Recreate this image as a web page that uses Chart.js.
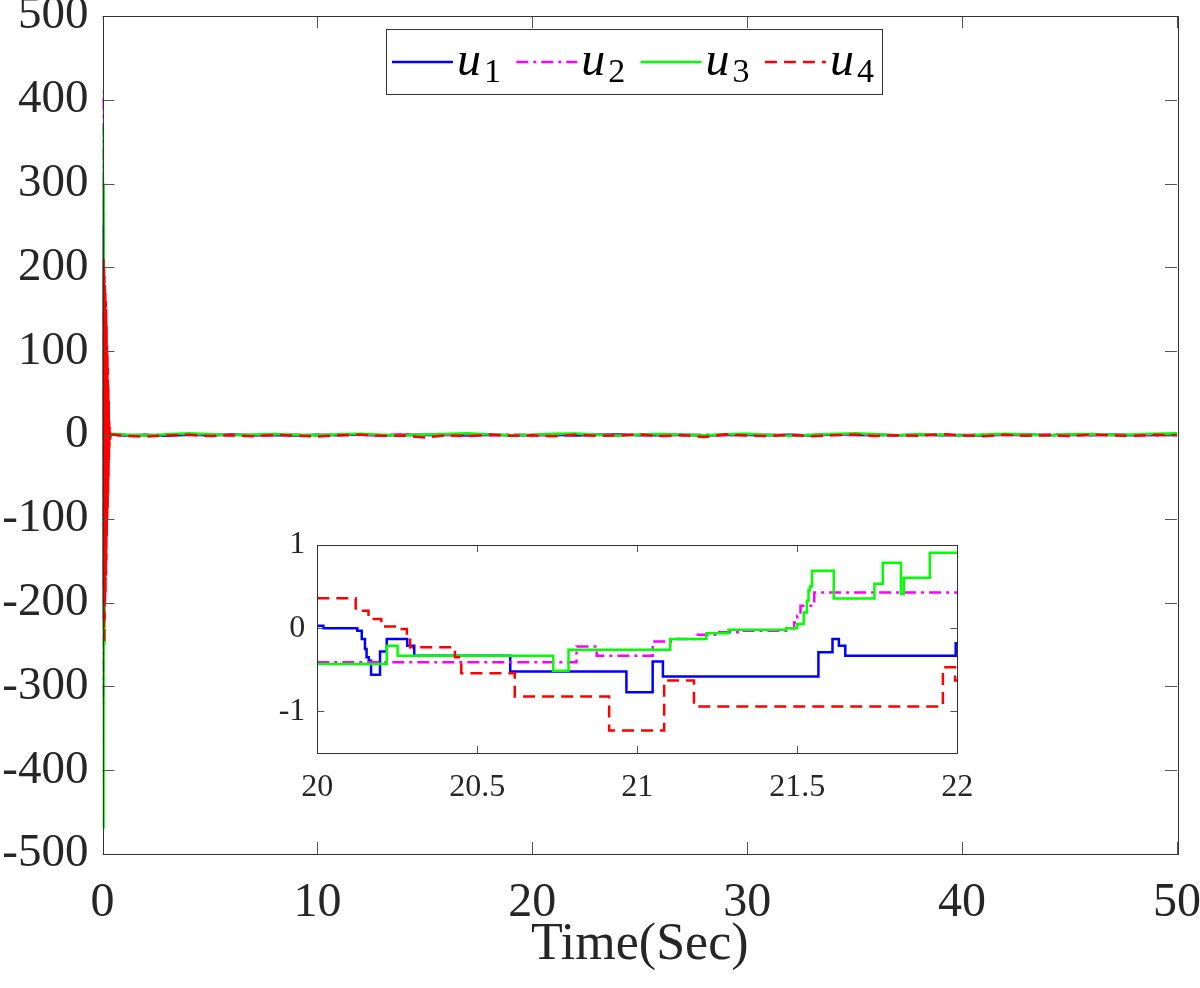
<!DOCTYPE html>
<html>
<head>
<meta charset="utf-8">
<script src="https://cdn.jsdelivr.net/npm/chart.js@4.4.1/dist/chart.umd.min.js"></script>
<style>
  html, body { margin: 0; padding: 0; background: #fff; }
  #wrap { position: relative; width: 1200px; height: 988px; }
  #mainChart { position: absolute; left: 0; top: 0; }
  #insetChart { position: absolute; left: 260px; top: 530px; }
</style>
</head>
<body>
<div id="wrap">
  <canvas id="mainChart" width="1200" height="988"></canvas>
  <canvas id="insetChart" width="720" height="280"></canvas>
</div>
<script>
// ---- main plot data (0..50 s) ----
const mainTime = [
  0, 0.01, 0.02, 0.03, 0.04, 0.05, 0.06, 0.07, 0.08, 0.09,
  0.1, 0.11, 0.12, 0.13, 0.14, 0.15, 0.16, 0.17, 0.18, 0.19,
  0.2, 0.21, 0.22, 0.23, 0.24, 0.25, 0.26, 0.27, 0.28, 0.29,
  0.3, 0.31, 0.32, 0.33, 0.34, 0.35, 0.36, 0.37, 0.38, 0.39,
  0.4, 0.45,
  0.5, 1, 2, 3, 4, 5, 6, 7, 8, 9,
  10, 11, 12, 13, 14, 15, 16, 17, 18, 19,
  20, 21, 22, 23, 24, 25, 26, 27, 28, 29,
  30, 31, 32, 33, 34, 35, 36, 37, 38, 39,
  40, 41, 42, 43, 44, 45, 46, 47, 48, 49,
  50
];
const mainU1 = [
  0, 120, 250, -180, 160, -220, 90, -150, 120, -100,
  80, -90, 60, -70, 50, -40, 35, -30, 25, -20,
  18, -15, 12, -10, 8, -7, 6, -5, 4, -3,
  3, -2, 2, -1, 1, -1, 0.5, -0.5, 0.3, -0.2,
  0.1, 0,
  0.4, -0.5, 0.3, -0.8, 0.2, -0.4, 0.6, -0.3, 0.1, -0.6,
  0.4, -0.2, 0.5, -0.7, 0.3, -0.1, 0.4, -0.5, 0.2, -0.3,
  -0.4, 0.3, -0.6, 0.2, 0.5, -0.3, -0.2, 0.4, -0.5, 0.1,
  0.3, -0.4, 0.2, -0.6, 0.5, -0.1, 0.2, -0.3, 0.4, -0.2,
  0.1, -0.5, 0.3, 0.6, -0.4, 0.2, -0.1, 0.3, -0.2, 0.4,
  0.1
];
const mainU2 = [
  0, 410, 150, -200, 300, -320, 250, -150, 120, -90,
  70, -60, 40, -30, 25, -20, 15, -10, 8, -6,
  5, -4, 3, -2, 2, -1, 1, -1, 0.5, -0.5,
  0.3, -0.2, 0.2, -0.1, 0.1, 0, 0, 0, 0, 0,
  0, 0,
  0.8, 0.2, -0.6, 0.5, 1.0, -0.3, 0.4, -0.7, 0.6, 0.2,
  -0.5, 0.7, 0.1, -0.4, 0.9, -0.2, 0.3, 0.6, -0.6, 0.4,
  0.2, -0.3, 0.8, 0.1, -0.5, 0.6, 0.3, -0.2, 0.5, -0.4,
  0.7, 0.2, -0.6, 0.4, 0.9, -0.1, 0.3, -0.5, 0.6, 0.2,
  -0.3, 0.5, 0.1, -0.4, 0.7, 0.3, -0.2, 0.6, 0.1, -0.3,
  0.4
];
const mainU3 = [
  0, 250, 370, -200, -470, 300, -350, 150, -250, 120,
  -150, 100, -90, 80, -70, 60, -50, 40, -35, 30,
  -25, 20, -15, 12, -10, 8, -6, 5, -4, 3,
  -2, 2, -1, 1, -1, 0.5, -0.5, 0.3, 0.2, 0.1,
  0, 0,
  1.5, 0.5, -0.5, 1.0, 2.0, 0.8, -0.3, 0.6, 1.2, 0.2,
  -0.4, 0.9, 1.6, 0.3, -0.6, 0.5, 1.1, 2.0, 0.7, -0.2,
  0.4, 1.4, 1.8, 0.2, -0.8, 0.6, 1.2, 0.3, -0.4, 1.0,
  1.5, 0.1, -1.0, 0.4, 1.3, 2.2, 1.0, -0.3, 0.8, 0.2,
  -0.5, 0.7, 1.4, 0.5, -0.3, 0.9, 1.2, 0.1, 0.6, 1.5,
  2.0
];
const mainU4 = [
  0, 50, -100, 150, -180, 210, -230, 200, -250, 190,
  -220, 180, -200, 170, -190, 160, -170, 150, -150, 130,
  -120, 110, -100, 96, -90, 80, -70, 60, -50, 40,
  -30, 20, -15, 10, -6, 4, -2, 1, 0.5, 0.2,
  0, 0.3,
  0.5, -1.0, -2.0, -0.5, 0.3, -1.2, -0.4, -1.5, 0.2, -0.8,
  -1.8, -0.3, 0.4, -1.0, -0.6, -3.0, -0.2, -1.4, 0.5, -0.9,
  -0.4, -1.6, 0.2, -1.0, -0.5, 0.6, -1.3, -0.2, -2.5, 0.8,
  -0.7, -1.1, 0.3, -1.6, -0.4, 0.5, -1.2, -0.3, -0.9, 1.0,
  -0.5, -1.4, 0.2, -0.8, -0.3, -1.2, 0.4, -0.6, -1.0, 0.3,
  -0.2
];
const mainXTicks = [0, 10, 20, 30, 40, 50];
const mainYTicks = [-500, -400, -300, -200, -100, 0, 100, 200, 300, 400, 500];

// ---- zoomed inset data (20..22 s), values hold until the next time ----
const insetU1T = [20, 20.019, 20.125, 20.139, 20.149, 20.154, 20.161, 20.168, 20.196, 20.217, 20.281,
                  20.303, 20.603, 20.966, 21.048, 21.08, 21.566, 21.61, 21.63, 21.65, 21.995, 22];
const insetU1V = [0.03, 0.0, -0.03, -0.13, -0.25, -0.35, -0.39, -0.56, -0.28, -0.13, -0.21,
                  -0.33, -0.52, -0.77, -0.4, -0.58, -0.29, -0.13, -0.21, -0.33, -0.18, -0.18];
const insetU2T = [20, 20.81, 20.873, 21.048, 21.105, 21.18, 21.256, 21.33, 21.47, 21.49, 21.5, 21.51, 21.553, 22];
const insetU2V = [-0.41, -0.22, -0.33, -0.16, -0.13, -0.08, -0.05, -0.03, 0.0, 0.07, 0.15, 0.27, 0.43, 0.43];
const insetU3T = [20, 20.217, 20.251, 20.737, 20.785, 21.103, 21.216, 21.285, 21.465, 21.5, 21.52,
                  21.53, 21.535, 21.54, 21.546, 21.614, 21.741, 21.767, 21.824, 21.833, 21.914, 22];
const insetU3V = [-0.43, -0.21, -0.33, -0.51, -0.26, -0.13, -0.06, -0.02, 0.0, 0.05, 0.19,
                  0.33, 0.46, 0.5, 0.69, 0.356, 0.535, 0.787, 0.41, 0.607, 0.907, 0.907];
const insetU4T = [20, 20.12, 20.16, 20.2, 20.26, 20.28, 20.29, 20.43, 20.45, 20.617, 20.912,
                  21.084, 21.177, 21.955, 21.993, 22];
const insetU4V = [0.36, 0.21, 0.11, 0.02, -0.01, -0.11, -0.23, -0.35, -0.54, -0.82, -1.23,
                  -0.63, -0.94, -0.47, -0.63, -0.63];
const insetXTicks = [20, 20.5, 21, 21.5, 22];
const insetYTicks = [-1, 0, 1];

const seriesNames = ['1', '2', '3', '4'];
const seriesColors = ['#0000ff', '#ff00ff', '#00ff00', '#ff0000'];
const seriesDash = [[], [12, 5, 3, 5], [], [12, 7]];

const serif = "'Liberation Serif', 'Times New Roman', serif";
const textColor = '#262626';

function toPoints(xs, ys) {
  return xs.map((x, i) => ({ x: x, y: ys[i] }));
}

// box + inward ticks on all four sides (MATLAB look)
const framePlugin = {
  id: 'frame',
  afterDatasetsDraw(chart, args, opts) {
    const { ctx, chartArea: a, scales } = chart;
    const len = opts.len || 10;
    ctx.save();
    ctx.strokeStyle = opts.color || '#444';
    ctx.lineWidth = 1;
    ctx.beginPath();
    scales.x.ticks.forEach(t => {
      const px = Math.round(scales.x.getPixelForValue(t.value)) + 0.5;
      ctx.moveTo(px, a.bottom); ctx.lineTo(px, a.bottom - len);
      ctx.moveTo(px, a.top); ctx.lineTo(px, a.top + len);
    });
    scales.y.ticks.forEach(t => {
      const py = Math.round(scales.y.getPixelForValue(t.value)) + 0.5;
      ctx.moveTo(a.left, py); ctx.lineTo(a.left + len, py);
      ctx.moveTo(a.right, py); ctx.lineTo(a.right - len, py);
    });
    ctx.stroke();
    ctx.strokeStyle = opts.boxColor || '#333';
    ctx.strokeRect(Math.round(a.left) + 0.5, Math.round(a.top) + 0.5,
                   Math.round(a.right - a.left), Math.round(a.bottom - a.top));
    ctx.restore();
  }
};

// legend with u_i labels (italic u, subscript index)
const mathLegend = {
  id: 'mathLegend',
  afterDraw(chart, args, opts) {
    if (!opts.show) return;
    const ctx = chart.ctx;
    const bx = 386, by = 29, bw = 496, bh = 65;
    ctx.save();
    ctx.fillStyle = '#fff';
    ctx.fillRect(bx, by, bw, bh);
    ctx.strokeStyle = '#333';
    ctx.lineWidth = 1;
    ctx.strokeRect(bx + 0.5, by + 0.5, bw, bh);
    chart.data.datasets.forEach((ds, i) => {
      const x0 = bx + 6 + i * 124.3;
      ctx.strokeStyle = ds.borderColor;
      ctx.lineWidth = 2.5;
      ctx.setLineDash(ds.borderDash || []);
      ctx.beginPath();
      ctx.moveTo(x0, 62); ctx.lineTo(x0 + 61, 62);
      ctx.stroke();
      ctx.setLineDash([]);
      ctx.fillStyle = '#000';
      ctx.textBaseline = 'alphabetic';
      ctx.textAlign = 'left';
      ctx.font = 'italic 48px ' + serif;
      ctx.fillText('u', x0 + 65, 75);
      ctx.font = '34px ' + serif;
      ctx.fillText(seriesNames[i], x0 + 92, 82);
    });
    ctx.restore();
  }
};

// later series drawn on top, as in the original plot
function makeDatasets(xsList, ysList, width, stepped) {
  return ysList.map((ys, i) => ({
    label: 'u' + seriesNames[i],
    data: toPoints(Array.isArray(xsList[0]) ? xsList[i] : xsList, ys),
    borderColor: seriesColors[i],
    borderDash: seriesDash[i],
    borderWidth: width,
    pointRadius: 0,
    fill: false,
    tension: 0,
    stepped: stepped,
    order: ysList.length - 1 - i
  }));
}

// fixed axis boxes, no extra label padding pushed into the layout
function fixX(h) {
  return s => { s.height = h; s.paddingLeft = 0; s.paddingRight = 0; };
}
function fixY(w) {
  return s => { s.width = w; s.paddingTop = 0; s.paddingBottom = 0; };
}

new Chart(document.getElementById('mainChart').getContext('2d'), {
  type: 'line',
  data: {
    datasets: makeDatasets(mainTime, [mainU1, mainU2, mainU3, mainU4], 2.5, false)
  },
  plugins: [framePlugin, mathLegend],
  options: {
    responsive: false,
    animation: false,
    devicePixelRatio: 1,
    layout: { padding: { top: 16, right: 23, left: 0, bottom: 0 } },
    scales: {
      x: {
        type: 'linear',
        min: 0,
        max: 50,
        afterBuildTicks: s => { s.ticks = mainXTicks.map(v => ({ value: v })); },
        afterFit: fixX(134),
        grid: { display: false, drawTicks: false },
        border: { display: false },
        ticks: { color: textColor, padding: 21, font: { family: serif, size: 48 } },
        title: {
          display: true,
          text: 'Time(Sec)',
          color: textColor,
          font: { family: serif, size: 52 },
          padding: { top: 0, bottom: 11 }
        }
      },
      y: {
        min: -500,
        max: 500,
        afterBuildTicks: s => { s.ticks = mainYTicks.map(v => ({ value: v })); },
        afterFit: fixY(102.5),
        grid: { display: false, drawTicks: false },
        border: { display: false },
        ticks: { color: textColor, padding: 14, font: { family: serif, size: 47 } }
      }
    },
    plugins: {
      legend: { display: false },
      tooltip: { enabled: false },
      frame: { len: 12, color: '#555' },
      mathLegend: { show: true }
    }
  }
});

new Chart(document.getElementById('insetChart').getContext('2d'), {
  type: 'line',
  data: {
    datasets: makeDatasets([insetU1T, insetU2T, insetU3T, insetU4T],
                           [insetU1V, insetU2V, insetU3V, insetU4V], 2.5, 'before')
  },
  plugins: [framePlugin],
  options: {
    responsive: false,
    animation: false,
    devicePixelRatio: 1,
    layout: { padding: { top: 15, right: 22.7, left: 0, bottom: 0 } },
    scales: {
      x: {
        type: 'linear',
        min: 20,
        max: 22,
        afterBuildTicks: s => { s.ticks = insetXTicks.map(v => ({ value: v })); },
        afterFit: fixX(57),
        grid: { display: false, drawTicks: false },
        border: { display: false },
        ticks: { color: textColor, padding: 15, font: { family: serif, size: 32 }, callback: v => String(v) }
      },
      y: {
        min: -1.5,
        max: 1,
        afterBuildTicks: s => { s.ticks = insetYTicks.map(v => ({ value: v })); },
        afterFit: fixY(57.3),
        grid: { display: false, drawTicks: false },
        border: { display: false },
        ticks: { color: textColor, padding: 12, font: { family: serif, size: 32 }, callback: v => String(v) }
      }
    },
    plugins: {
      legend: { display: false },
      tooltip: { enabled: false },
      frame: { len: 7, color: '#555' },
      mathLegend: { show: false }
    }
  }
});
</script>
</body>
</html>
